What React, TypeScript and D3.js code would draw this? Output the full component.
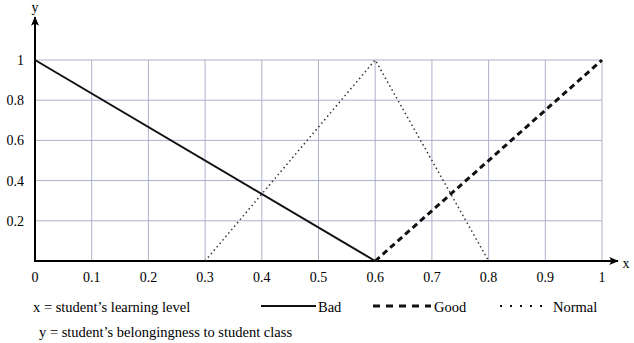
import React from "react";
import * as d3 from "d3";

const xTicks = [0, 0.1, 0.2, 0.3, 0.4, 0.5, 0.6, 0.7, 0.8, 0.9, 1];
const yTicks = [0.2, 0.4, 0.6, 0.8, 1];
const badX = [0, 0.6];
const badY = [1, 0];
const goodX = [0.6, 1];
const goodY = [0, 1];
const normalX = [0.3, 0.6, 0.8];
const normalY = [0, 1, 0];
const legendNames = ["Bad", "Good", "Normal"];
const noteX = "x = student\u2019s learning level";
const noteY = "y = student\u2019s belongingness to student class";

const W = 634, H = 343;
const FONT = "'Liberation Serif', 'Times New Roman', serif";

export default function App() {
  const x = d3.scaleLinear().domain([0, 1]).range([35, 602]);
  const y = d3.scaleLinear().domain([0, 1]).range([261, 60]);
  const line = d3.line<[number, number]>().x((d) => x(d[0])).y((d) => y(d[1]));
  const pts = (xs: number[], ys: number[]) => xs.map((v, i) => [v, ys[i]] as [number, number]);
  const grid = "#aeb0cc";
  const styles = [
    { dash: undefined, w: 2, color: "#111" },
    { dash: "6,4", w: 3, color: "#111" },
    { dash: "1.5,3", w: 1.5, color: "#333" },
  ];
  const legendStyles = [
    { dash: undefined, w: 2 },
    { dash: "7,6", w: 3 },
    { dash: "2,8", w: 2 },
  ];
  const series = [pts(badX, badY), pts(goodX, goodY), pts(normalX, normalY)];
  const legendPos = [
    { x1: 261, x2: 316, tx: 318 },
    { x1: 373, x2: 431, tx: 434 },
    { x1: 500, x2: 542, tx: 553 },
  ];
  return (
    <svg width={W} height={H} style={{ position: "absolute", left: 0, top: 0, background: "#fff" }} fontFamily={FONT}>
      <defs>
        <marker id="arr" viewBox="0 0 12 10" refX="11" refY="5" markerWidth="10" markerHeight="8" orient="auto" markerUnits="userSpaceOnUse">
          <path d="M0,0 L12,5 L0,10 L3,5 z" fill="#000" />
        </marker>
      </defs>
      {xTicks.slice(1).map((t) => (
        <line key={"gx" + t} x1={x(t)} x2={x(t)} y1={y(1)} y2={y(0)} stroke={grid} strokeWidth={1} />
      ))}
      {yTicks.map((t) => (
        <line key={"gy" + t} x1={x(0)} x2={x(1)} y1={y(t)} y2={y(t)} stroke={grid} strokeWidth={1} />
      ))}
      <line x1={x(0)} x2={x(0)} y1={y(0) + 1} y2={17} stroke="#000" strokeWidth={2} markerEnd="url(#arr)" />
      <line x1={x(0) - 1} x2={618} y1={y(0)} y2={y(0)} stroke="#000" strokeWidth={2} markerEnd="url(#arr)" />
      <text x={x(0)} y={12} fontSize={14} textAnchor="middle">y</text>
      <text x={626} y={268} fontSize={14} textAnchor="middle">x</text>
      {yTicks.map((t) => (
        <text key={"ty" + t} x={24} y={y(t) + 5} fontSize={14} textAnchor="end">{t === 1 ? "1" : String(t)}</text>
      ))}
      {xTicks.map((t) => (
        <text key={"tx" + t} x={x(t)} y={282} fontSize={14} textAnchor="middle">{String(t)}</text>
      ))}
      {series.map((s, i) => (
        <path key={"s" + i} d={line(s) || ""} fill="none" stroke={styles[i].color} strokeWidth={styles[i].w} strokeDasharray={styles[i].dash} />
      ))}
      {legendNames.map((n, i) => (
        <g key={"lg" + n}>
          <line x1={legendPos[i].x1} x2={legendPos[i].x2} y1={306} y2={306} stroke="#111" strokeWidth={legendStyles[i].w} strokeDasharray={legendStyles[i].dash} />
          <text x={legendPos[i].tx} y={312} fontSize={14.5}>{n}</text>
        </g>
      ))}
      <text x={33} y={312} fontSize={14.5}>{noteX}</text>
      <text x={39} y={337} fontSize={14.5}>{noteY}</text>
    </svg>
  );
}
